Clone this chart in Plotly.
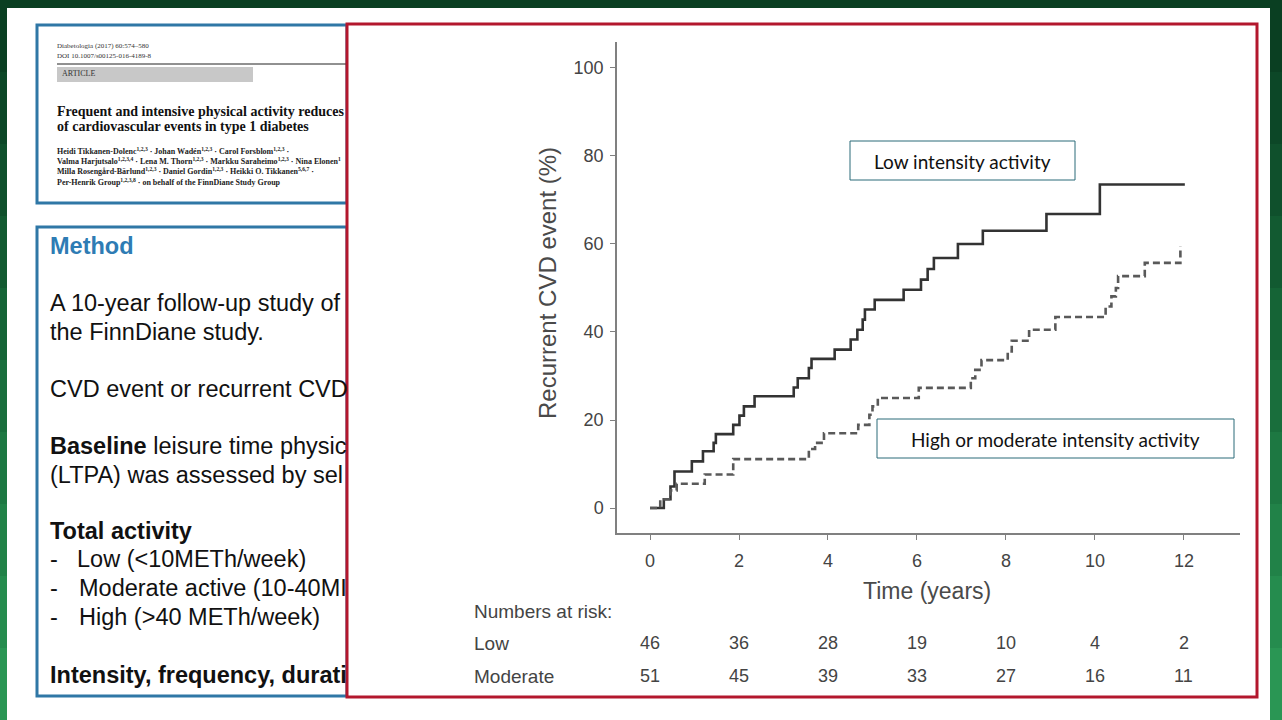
import plotly.graph_objects as go

W, H = 1282, 720

# Kaplan-Meier style cumulative curves
low_time = [0, 0.31, 0.46, 0.55, 0.94, 1.19, 1.43, 1.48, 1.87, 2.01,
            2.11, 2.35, 3.23, 3.32, 3.57, 3.63, 4.15, 4.51, 4.66, 4.78,
            4.83, 5.05, 5.70, 6.09, 6.24, 6.38, 6.92, 7.48, 8.91, 10.11, 12.02]
low_event = [0, 2.0, 4.9, 8.3, 10.6, 12.9, 14.8, 16.8, 18.9, 21.0,
             23.1, 25.4, 27.4, 29.5, 31.8, 33.9, 36.0, 38.3, 40.5, 42.8,
             45.1, 47.3, 49.6, 51.9, 54.3, 56.8, 60.0, 63.0, 66.8, 73.5, 73.5]

mod_time = [0, 0.23, 0.46, 0.60, 1.23, 1.87, 3.57, 3.71, 3.91, 4.68,
            4.93, 5.00, 5.12, 6.04, 7.21, 7.31, 7.45, 8.04, 8.13, 8.52,
            9.11, 10.24, 10.37, 10.47, 10.52, 11.12, 11.92]
mod_event = [0, 2.0, 4.0, 5.5, 7.6, 11.1, 13.4, 14.8, 17.0, 18.9,
             21.2, 23.1, 25.0, 27.3, 29.5, 31.4, 33.6, 35.6, 38.0, 40.5,
             43.4, 45.8, 48.1, 50.0, 52.7, 55.7, 59.5]

risk_times = [0, 2, 4, 6, 8, 10, 12]
risk_low = [46, 36, 28, 19, 10, 4, 2]
risk_moderate = [51, 45, 39, 33, 27, 16, 11]

y_ticks = [0, 20, 40, 60, 80, 100]

method_lines = [
    ("<b>Method</b>", 246, "#2e7cb4", 48),
    ("A 10-year follow-up study of", 303, "#111", 48),
    ("the FinnDiane study.", 332, "#111", 48),
    ("CVD event or recurrent CVD", 389, "#111", 48),
    ("<b>Baseline</b> leisure time physic", 446, "#111", 48),
    ("(LTPA) was assessed by sel", 475, "#111", 48),
    ("<b>Total activity</b>", 531, "#111", 48),
    ("-", 559, "#111", 48),
    ("Low (<10METh/week)", 559, "#111", 75),
    ("-", 588, "#111", 48),
    ("Moderate active (10-40MI", 588, "#111", 77),
    ("-", 617, "#111", 48),
    ("High (>40 METh/week)", 617, "#111", 77),
    ("<b>Intensity, frequency, durati</b>", 675, "#111", 48),
]

authors = [
    "Heidi Tikkanen-Dolenc<sup>1,2,3</sup> · Johan Wadén<sup>1,2,3</sup> · Carol Forsblom<sup>1,2,3</sup> ·",
    "Valma Harjutsalo<sup>1,2,3,4</sup> · Lena M. Thorn<sup>1,2,3</sup> · Markku Saraheimo<sup>1,2,3</sup> · Nina Elonen<sup>1</sup>",
    "Milla Rosengård-Bärlund<sup>1,2,3</sup> · Daniel Gordin<sup>1,2,3</sup> · Heikki O. Tikkanen<sup>5,6,7</sup> ·",
    "Per-Henrik Group<sup>1,2,3,8</sup> · on behalf of the FinnDiane Study Group",
]
author_y = [151, 161, 171.5, 182]


def px(x):
    return x / W


def py(y):
    return 1 - y / H


SANS = "Liberation Sans, Arial, sans-serif"
SERIF = "Liberation Serif, Times New Roman, serif"
LABEL = "Lato, Open Sans, sans-serif"

fig = go.Figure()

fig.add_trace(go.Scatter(
    x=low_time, y=low_event, mode="lines", line_shape="hv",
    line=dict(color="#333333", width=2.6), name="Low", hoverinfo="skip"))
fig.add_trace(go.Scatter(
    x=mod_time, y=mod_event, mode="lines", line_shape="hv",
    line=dict(color="#595959", width=2.6, dash="7px,4px"),
    name="Moderate", hoverinfo="skip"))

shapes = []
# green backdrop, darker at the top
greens = ["#0a3f22", "#0c4727", "#0f502c", "#125a31", "#156436",
          "#196e3c", "#1d7842", "#218248", "#258c4e", "#2a9654"]
for i, c in enumerate(greens):
    shapes.append(dict(type="rect", xref="paper", yref="paper", layer="below",
                       x0=0, x1=1, y0=py(72 * (i + 1)), y1=py(72 * i),
                       fillcolor=c, line_width=0))
shapes.append(dict(type="rect", xref="paper", yref="paper", layer="below",
                   x0=px(7), x1=px(1270), y0=0, y1=py(8),
                   fillcolor="white", line_width=0))
# paper header box and method box
for y0, y1 in [(25, 203), (227, 696)]:
    shapes.append(dict(type="rect", xref="paper", yref="paper", layer="below",
                       x0=px(37), x1=px(347), y0=py(y1), y1=py(y0),
                       fillcolor="white", line=dict(color="#2f77a6", width=3)))
shapes.append(dict(type="line", xref="paper", yref="paper", layer="below",
                   x0=px(57), x1=px(347), y0=py(64), y1=py(64),
                   line=dict(color="#222", width=1)))
shapes.append(dict(type="rect", xref="paper", yref="paper", layer="below",
                   x0=px(57), x1=px(253), y0=py(82), y1=py(67),
                   fillcolor="#c8c8c8", line_width=0))
# red box around the chart
shapes.append(dict(type="rect", xref="paper", yref="paper", layer="below",
                   x0=px(347), x1=px(1257), y0=py(697), y1=py(24),
                   fillcolor="white", line=dict(color="#b3172d", width=3)))
# label boxes
for x0, x1, y0, y1 in [(850, 1075, 141, 180), (877, 1234, 419, 458)]:
    shapes.append(dict(type="rect", xref="paper", yref="paper", layer="above",
                       x0=px(x0), x1=px(x1), y0=py(y1), y1=py(y0),
                       fillcolor="rgba(0,0,0,0)", line=dict(color="#2b6a79", width=1)))

ann = []
ann.append(dict(text="Diabetologia (2017) 60:574–580", x=px(55), y=py(46),
                font=dict(family=SERIF, size=7, color="#333")))
ann.append(dict(text="DOI 10.1007/s00125-016-4189-8", x=px(55), y=py(56),
                font=dict(family=SERIF, size=7, color="#333")))
ann.append(dict(text="ARTICLE", x=px(60), y=py(74),
                font=dict(family=SERIF, size=8, color="#333")))
ann.append(dict(text="<b>Frequent and intensive physical activity reduces</b>",
                x=px(55), y=py(111), font=dict(family=SERIF, size=14, color="#111")))
ann.append(dict(text="<b>of cardiovascular events in type 1 diabetes</b>",
                x=px(55), y=py(126), font=dict(family=SERIF, size=14, color="#111")))
for t, yy in zip(authors, author_y):
    ann.append(dict(text="<b>" + t + "</b>", x=px(55), y=py(yy),
                    font=dict(family=SERIF, size=8, color="#222")))
for t, yy, col, xx in method_lines:
    ann.append(dict(text=t, x=px(xx), y=py(yy),
                    font=dict(family=SANS, size=23.5, color=col)))

for a in ann:
    a.update(xref="paper", yref="paper", xanchor="left", yanchor="middle",
             showarrow=False)

num_font = dict(family=SANS, size=18, color="#444")
row_font = dict(family=SANS, size=19, color="#444")
extra = []
extra.append(dict(text="Recurrent CVD event (%)", x=px(548), y=py(283),
                  xref="paper", yref="paper", textangle=-90,
                  font=dict(family=SANS, size=24, color="#4a4a4a")))
extra.append(dict(text="Time (years)", x=px(927), y=py(591),
                  xref="paper", yref="paper",
                  font=dict(family=SANS, size=23, color="#4a4a4a")))
for t, yy in [("Numbers at risk:", 611), ("Low", 643), ("Moderate", 676)]:
    extra.append(dict(text=t, x=px(472), y=py(yy), xanchor="left",
                      xref="paper", yref="paper", font=row_font))
for t, lo, mo in zip(risk_times, risk_low, risk_moderate):
    extra.append(dict(text=str(lo), x=t, y=py(643), xref="x", yref="paper",
                      font=num_font))
    extra.append(dict(text=str(mo), x=t, y=py(676), xref="x", yref="paper",
                      font=num_font))
extra.append(dict(text="Low intensity activity", x=px(962), y=py(161),
                  xref="paper", yref="paper",
                  font=dict(family=LABEL, size=19, color="#111")))
extra.append(dict(text="High or moderate intensity activity", x=px(1055), y=py(439),
                  xref="paper", yref="paper",
                  font=dict(family=LABEL, size=19, color="#111")))
for a in extra:
    a.setdefault("xanchor", "center")
    a.update(yanchor="middle", showarrow=False)

fig.update_layout(
    width=W, height=H,
    margin=dict(l=0, r=0, t=0, b=0),
    paper_bgcolor="#145a32",
    plot_bgcolor="rgba(0,0,0,0)",
    showlegend=False,
    shapes=shapes,
    annotations=ann + extra,
    xaxis=dict(domain=[px(617), px(1240)], range=[-0.742, 13.26],
               tickvals=risk_times, showgrid=False, zeroline=False,
               showline=True, linecolor="#808080", linewidth=1.5,
               ticks="outside", ticklen=5, tickcolor="#808080", tickwidth=1.2,
               tickfont=num_font, ticklabelstandoff=6),
    yaxis=dict(domain=[py(533), py(42)], range=[-5.68, 105.9],
               tickvals=y_ticks, showgrid=False, zeroline=False,
               showline=True, linecolor="#808080", linewidth=1.5,
               ticks="outside", ticklen=5, tickcolor="#808080", tickwidth=1.2,
               tickfont=num_font, ticklabelstandoff=3),
)

fig.write_html("out.html", config={"displayModeBar": False},
               post_script="document.body.style.margin='0';")
